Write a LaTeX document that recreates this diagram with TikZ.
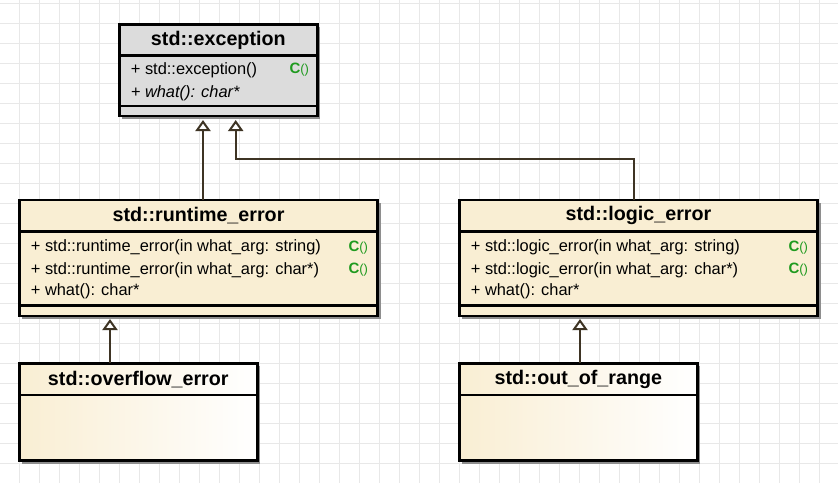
\documentclass[tikz,border=0pt]{standalone}
\usepackage{fontspec}
\setmainfont{Liberation Sans}
\usetikzlibrary{shadows,arrows.meta}
\definecolor{beige}{HTML}{F9EED3}
\definecolor{excgray}{HTML}{DCDCDC}
\definecolor{gridc}{HTML}{E8E8E8}
\definecolor{linkc}{HTML}{3E3424}
\definecolor{ctorg}{HTML}{1F9A1F}
\definecolor{shadowc}{HTML}{8E8E8E}
\newcommand{\ctorlabel}{{\fontsize{15}{17}\selectfont\bfseries C}{\fontsize{13}{15}\selectfont()}}
\begin{document}
\begin{tikzpicture}[x=1pt,y=-1pt,
  classbox/.style={draw=black, line width=2.6pt, rectangle, inner sep=0pt, outer sep=0pt,
    drop shadow={shadow xshift=3pt, shadow yshift=-3pt, fill=shadowc, opacity=1}},
  excbox/.style={classbox, fill=excgray},
  yelbox/.style={classbox, fill=beige},
  gradbox/.style={classbox, left color=beige, right color=white},
  divider/.style={draw=black, line width=2.6pt},
  header/.style={inner sep=0pt, font=\fontsize{19.7}{22}\selectfont\bfseries},
  member/.style={anchor=west, inner sep=0pt, font=\fontsize{16.4}{18}\selectfont},
  ctor/.style={anchor=west, inner sep=0pt, text=ctorg},
  inh/.style={draw=linkc, line width=2pt, -{Triangle[length=11pt, width=15pt, fill=white]}}
]
\useasboundingbox (0,0) rectangle (838,483);
\fill[white] (0,0) rectangle (838,483);
% grid
\foreach \x in {19.3,39.3,...,838} \draw[gridc, line width=1pt] (\x,0) -- (\x,483);
\foreach \y in {3.3,23.3,...,483} \draw[gridc, line width=1pt] (0,\y) -- (838,\y);

% std::exception
\node[excbox, minimum width=198pt, minimum height=91.7pt] (exc) at (218.3,70.15) {};
\draw[divider] (exc.west |- 0,55.7) -- (exc.east |- 0,55.7);
\draw[divider] (exc.west |- 0,106) -- (exc.east |- 0,106);
\node[header] (excH) at (218.3,40.5) {std::exception};
\node[member] (excM1) at (130.7,70) {+ std::exception()};
\node[member, font=\fontsize{16.4}{18}\selectfont\itshape] (excM2) at (130.7,93) {+ what(): char*};
\node[ctor] (excC1) at (289.3,70) {\ctorlabel};

% std::runtime_error
\node[yelbox, minimum width=358.4pt, minimum height=116pt] (rt) at (198.5,258) {};
\draw[divider] (rt.west |- 0,231.7) -- (rt.east |- 0,231.7);
\draw[divider] (rt.west |- 0,305.7) -- (rt.east |- 0,305.7);
\node[header] (rtH) at (198.5,215.5) {std::runtime\_error};
\node[member] (rtM1) at (30.7,247.3) {+ std::runtime\_error(in what\_arg: string)};
\node[member] (rtM2) at (30.7,270) {+ std::runtime\_error(in what\_arg: char*)};
\node[member] (rtM3) at (30.7,291.7) {+ what(): char*};
\node[ctor] (rtC1) at (348.3,247.3) {\ctorlabel};
\node[ctor] (rtC2) at (348.3,270) {\ctorlabel};

% std::logic_error
\node[yelbox, minimum width=358.4pt, minimum height=116pt] (lg) at (638.5,258) {};
\draw[divider] (lg.west |- 0,231.7) -- (lg.east |- 0,231.7);
\draw[divider] (lg.west |- 0,305.7) -- (lg.east |- 0,305.7);
\node[header] (lgH) at (638.5,215.5) {std::logic\_error};
\node[member] (lgM1) at (470.7,247.3) {+ std::logic\_error(in what\_arg: string)};
\node[member] (lgM2) at (470.7,270) {+ std::logic\_error(in what\_arg: char*)};
\node[member] (lgM3) at (470.7,291.7) {+ what(): char*};
\node[ctor] (lgC1) at (788.3,247.3) {\ctorlabel};
\node[ctor] (lgC2) at (788.3,270) {\ctorlabel};

% std::overflow_error
\node[gradbox, minimum width=238pt, minimum height=97.4pt] (ovf) at (138.3,412) {};
\draw[divider] (ovf.west |- 0,395) -- (ovf.east |- 0,395);
\node[header] (ovfH) at (138.3,379.5) {std::overflow\_error};

% std::out_of_range
\node[gradbox, minimum width=238pt, minimum height=97.4pt] (oor) at (578.3,412) {};
\draw[divider] (oor.west |- 0,395) -- (oor.east |- 0,395);
\node[header] (oorH) at (578.3,379.5) {std::out\_of\_range};

% connectors
\coordinate (t1) at (203,120);
\coordinate (t2) at (235.7,120);
\coordinate (b1) at (634,159);
\coordinate (t3) at (110,319);
\coordinate (t4) at (580,319);
\draw[inh] (rt.north -| t1) -- (t1);
\draw[inh] (lg.north -| b1) -- (b1) -| (t2);
\draw[inh] (ovf.north -| t3) -- (t3);
\draw[inh] (oor.north -| t4) -- (t4);
\end{tikzpicture}
\end{document}
